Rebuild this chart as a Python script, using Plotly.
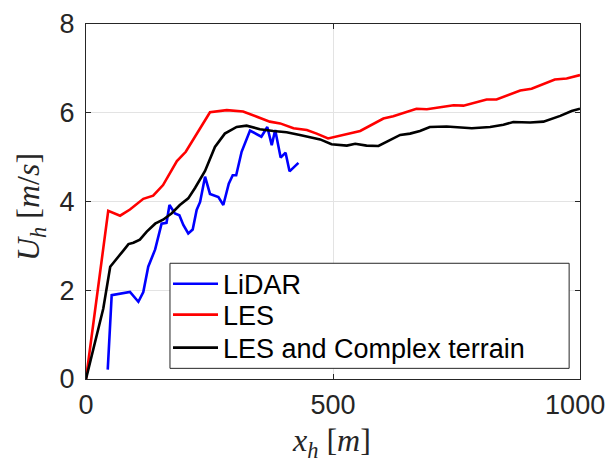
import plotly.graph_objects as go

# ---- data ----
lidar_x = [44, 52, 89, 106, 116, 126, 140, 153, 163, 169, 180, 189, 197, 207, 216, 224, 231, 241,
           251, 268, 278, 289, 297, 304, 315, 332, 355, 367, 376, 383, 394, 404, 412, 430]
lidar_y = [0.21, 1.89, 1.96, 1.74, 1.96, 2.53, 2.92, 3.50, 3.52, 3.92, 3.73, 3.69, 3.47, 3.28, 3.37, 3.81, 3.99, 4.56,
           4.17, 4.10, 3.92, 4.40, 4.59, 4.59, 5.12, 5.60, 5.46, 5.68, 5.27, 5.61, 4.99, 5.10, 4.68, 4.87]

les_x = [0, 45, 69, 89, 116, 136, 156, 173, 184, 202, 251, 285, 318, 346, 372, 393, 420, 447, 467, 490,
         514, 538, 555, 602, 622, 669, 690, 744, 764, 811, 831, 879, 902, 949, 973, 1000]
les_y = [0.0, 3.79, 3.68, 3.82, 4.06, 4.13, 4.37, 4.71, 4.91, 5.12, 6.01, 6.06, 6.03, 5.91, 5.80, 5.76, 5.65, 5.61, 5.53, 5.42,
         5.48, 5.55, 5.59, 5.87, 5.92, 6.09, 6.08, 6.17, 6.16, 6.30, 6.30, 6.50, 6.54, 6.75, 6.77, 6.85]

les_ct_x = [0, 18, 35, 49, 62, 76, 86, 96, 109, 123, 140, 156, 173, 190, 207, 221, 241, 261, 281, 305,
            325, 352, 379, 406, 433, 474, 497, 528, 545, 568, 592, 636, 656, 676, 696, 730, 781, 818,
            845, 865, 899, 926, 960, 983, 1000]
les_ct_y = [0.0, 0.80, 1.59, 2.53, 2.72, 2.90, 3.04, 3.07, 3.14, 3.32, 3.50, 3.59, 3.73, 3.92, 4.07, 4.31, 4.69, 5.23, 5.53, 5.68,
            5.71, 5.63, 5.59, 5.56, 5.50, 5.40, 5.29, 5.26, 5.30, 5.26, 5.25, 5.50, 5.53, 5.59, 5.68, 5.69, 5.65, 5.68,
            5.73, 5.79, 5.78, 5.80, 5.93, 6.04, 6.09]

series_names = ["LiDAR", "LES", "LES and Complex terrain"]
x_ticks = [0, 500, 1000]
x_tick_labels = ["0", "500", "1000\u00a0\u200a"]
y_ticks = [0, 2, 4, 6, 8]

AX = "#262626"
SANS = "Liberation Sans, Arial, sans-serif"
SERIF = "Liberation Serif, DejaVu Serif, serif"

fig = go.Figure()
legend_ids = ["legend", "legend2", "legend3"]
for name, xs, ys, col, lg in [(series_names[0], lidar_x, lidar_y, "#0000ff", legend_ids[0]),
                              (series_names[1], les_x, les_y, "#ff0000", legend_ids[1]),
                              (series_names[2], les_ct_x, les_ct_y, "#000000", legend_ids[2])]:
    fig.add_trace(go.Scatter(x=xs, y=ys, mode="lines", name=name, legend=lg,
                             line=dict(color=col, width=2.6)))

axis_common = dict(showline=True, linecolor=AX, linewidth=1, mirror="ticks",
                   ticks="inside", ticklen=5, tickcolor=AX,
                   showgrid=True, gridcolor="#e3e3e3", gridwidth=1,
                   zeroline=False, automargin=False, ticklabeloverflow="allow",
                   tickfont=dict(family=SANS, size=27, color=AX))

fig.update_xaxes(range=[0, 1000], tickvals=x_ticks, ticktext=x_tick_labels,
                 ticklabelstandoff=2, **axis_common)
fig.update_yaxes(range=[0, 8], tickvals=y_ticks, ticktext=[str(v) for v in y_ticks],
                 ticklabelstandoff=5, **axis_common)

# axis titles placed as annotations (paper coordinates)
fig.add_annotation(text="<i>x</i><sub><i>h</i></sub> [<i>m</i>]", xref="paper", yref="paper",
                   x=0.497, y=-0.18, xanchor="center", yanchor="middle", showarrow=False,
                   font=dict(family=SERIF, size=32, color=AX))
fig.add_annotation(text="<i>U</i><sub><i>h</i></sub> [<i>m</i>/<i>s</i>]", xref="paper", yref="paper",
                   x=-0.111, y=0.485, xanchor="center", yanchor="middle", textangle=-90, showarrow=False,
                   font=dict(family=SERIF, size=32, color=AX))

# legend frame (white box with border) behind the legend entries
fig.add_shape(type="rect", xref="paper", yref="paper", x0=0.170, x1=0.978, y0=0.030, y1=0.326,
              fillcolor="white", line=dict(color=AX, width=1), layer="above")

leg_common = dict(xanchor="left", yanchor="middle", bgcolor="rgba(0,0,0,0)", borderwidth=0,
                  font=dict(family=SANS, size=27, color="#000000"), itemwidth=45)
row_y = [0.267, 0.180, 0.087]
fig.update_layout(
    width=609, height=462,
    margin=dict(l=86, r=29, t=24, b=83),
    paper_bgcolor="white", plot_bgcolor="white",
    showlegend=True,
    legend=dict(x=0.166, y=row_y[0], **leg_common),
    legend2=dict(x=0.166, y=row_y[1], **leg_common),
    legend3=dict(x=0.166, y=row_y[2], **leg_common),
)

fig.write_html("out.html")
